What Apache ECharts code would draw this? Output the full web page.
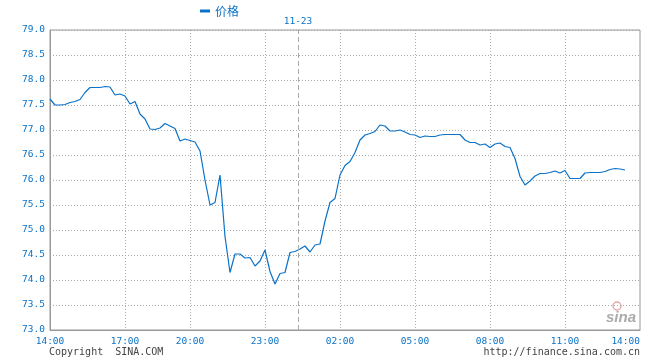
<!DOCTYPE html>
<html>
<head>
<meta charset="utf-8">
<script src="https://cdn.jsdelivr.net/npm/echarts@6/dist/echarts.min.js"></script>
<style>html,body{margin:0;padding:0;background:#fff;}#c{width:660px;height:360px;}</style>
</head>
<body>
<div id="c"></div>
<script>
// ---- data ----
const seriesName = '价格';
const tickSlots = [0, 15, 28, 43, 58, 73, 88, 103, 118];
const tickLabels = ['14:00', '17:00', '20:00', '23:00', '02:00', '05:00', '08:00', '11:00', '14:00'];
const dateSlot = 49.6;
const dateLabel = '11-23';
const yTicks = [73.0, 79.0, 0.5]; // min, max, step
const prices = [
  77.62, 77.50, 77.50, 77.51, 77.55, 77.57, 77.61, 77.75, 77.85, 77.85,
  77.85, 77.87, 77.86, 77.70, 77.72, 77.68, 77.52, 77.57, 77.32, 77.22,
  77.02, 77.01, 77.04, 77.13, 77.08, 77.03, 76.78, 76.82, 76.79, 76.76,
  76.58, 76.00, 75.50, 75.55, 76.10, 74.87, 74.15, 74.52, 74.52, 74.44,
  74.45, 74.28, 74.38, 74.60, 74.17, 73.92, 74.13, 74.15, 74.55, 74.57,
  74.62, 74.68, 74.56, 74.70, 74.72, 75.18, 75.55, 75.63, 76.10, 76.29,
  76.37, 76.55, 76.80, 76.90, 76.93, 76.97, 77.10, 77.08, 76.98, 76.98,
  77.00, 76.96, 76.91, 76.90, 76.85, 76.88, 76.87, 76.87, 76.90, 76.91,
  76.91, 76.91, 76.91, 76.80, 76.75, 76.75, 76.70, 76.72, 76.65, 76.72,
  76.74, 76.67, 76.65, 76.43, 76.07, 75.90, 75.98, 76.08, 76.13, 76.13,
  76.15, 76.18, 76.14, 76.19, 76.03, 76.03, 76.03, 76.14, 76.15, 76.15,
  76.15, 76.17, 76.21, 76.23, 76.22, 76.20
];

// categories: time string for each slot (slots between ticks span 3 hours)
const categories = [];
for (let i = 0; i <= tickSlots[tickSlots.length - 1]; i++) {
  let seg = 0;
  while (seg < tickSlots.length - 2 && i > tickSlots[seg + 1]) seg++;
  const s0 = tickSlots[seg], s1 = tickSlots[seg + 1];
  const mins = Math.round(14 * 60 + 180 * seg + 180 * (i - s0) / (s1 - s0)) % 1440;
  const hh = String(Math.floor(mins / 60)).padStart(2, '0');
  const mm = String(mins % 60).padStart(2, '0');
  categories.push(hh + ':' + mm);
}

const blue = '#0a72c8';
const mono = 'DejaVu Sans Mono';
const chart = echarts.init(document.getElementById('c'), null, {renderer: 'canvas'});
chart.setOption({
  animation: false,
  backgroundColor: '#fff',
  legend: {
    data: [seriesName],
    left: 195, top: 0,
    icon: 'rect', itemWidth: 10, itemHeight: 3, itemGap: 10,
    textStyle: {color: blue, fontSize: 12, fontFamily: 'Noto Sans CJK SC'}
  },
  grid: {left: 50, right: 20, top: 30, bottom: 30, show: true, borderColor: '#999', borderWidth: 1, containLabel: false},
  xAxis: [{
    type: 'category',
    data: categories,
    boundaryGap: false,
    axisLine: {show: true, lineStyle: {color: '#999'}},
    axisTick: {show: false},
    axisLabel: {
      interval: (idx) => tickSlots.includes(idx),
      formatter: (val, idx) => { const k = tickSlots.indexOf(idx); return k >= 0 ? tickLabels[k] : ''; },
      color: blue, fontSize: 9.5, fontFamily: mono, margin: 7,
      alignMaxLabel: 'right'
    },
    splitLine: {
      show: true,
      interval: (idx) => tickSlots.includes(idx) && idx !== 0 && idx !== tickSlots[tickSlots.length - 1],
      lineStyle: {color: '#aaa', type: [1, 2], width: 1}
    }
  }, {
    type: 'value', min: tickSlots[0], max: tickSlots[tickSlots.length - 1], show: false
  }],
  yAxis: {
    type: 'value',
    min: yTicks[0], max: yTicks[1], interval: yTicks[2],
    axisLine: {show: true, lineStyle: {color: '#999'}},
    axisTick: {show: false},
    axisLabel: {color: blue, fontSize: 9.5, fontFamily: mono, margin: 5, formatter: (v) => v.toFixed(1)},
    splitLine: {show: true, lineStyle: {color: '#aaa', type: [1, 2], width: 1}}
  },
  series: [{
    name: seriesName,
    type: 'line',
    data: prices,
    showSymbol: false,
    symbol: 'none',
    lineStyle: {color: blue, width: 1.2},
    itemStyle: {color: blue}
  }, {
    name: 'date',
    type: 'line',
    xAxisIndex: 1,
    data: [],
    silent: true,
    markLine: {
      silent: true,
      symbol: 'none',
      animation: false,
      data: [{xAxis: dateSlot}],
      lineStyle: {color: '#aaa', type: [5, 3], width: 1},
      label: {show: true, position: 'end', formatter: dateLabel, color: blue, fontSize: 9.5, fontFamily: mono, distance: 3}
    }
  }],
  graphic: [
    {type: 'text', left: 49, top: 347, style: {text: 'Copyright  SINA.COM', fill: '#444', font: '10px "DejaVu Sans Mono"'}},
    {type: 'text', right: 20, top: 347, style: {text: 'http://finance.sina.com.cn', fill: '#444', font: '10px "DejaVu Sans Mono"', textAlign: 'right'}},
    {type: 'circle', shape: {cx: 617, cy: 306, r: 4}, style: {fill: 'none', stroke: '#e6a9a9', lineWidth: 1.5}},
    {type: 'text', x: 606, y: 310, style: {text: 'sina', fill: '#aaa', font: 'italic bold 15px "Liberation Sans"'}}
  ]
});
</script>
</body>
</html>
